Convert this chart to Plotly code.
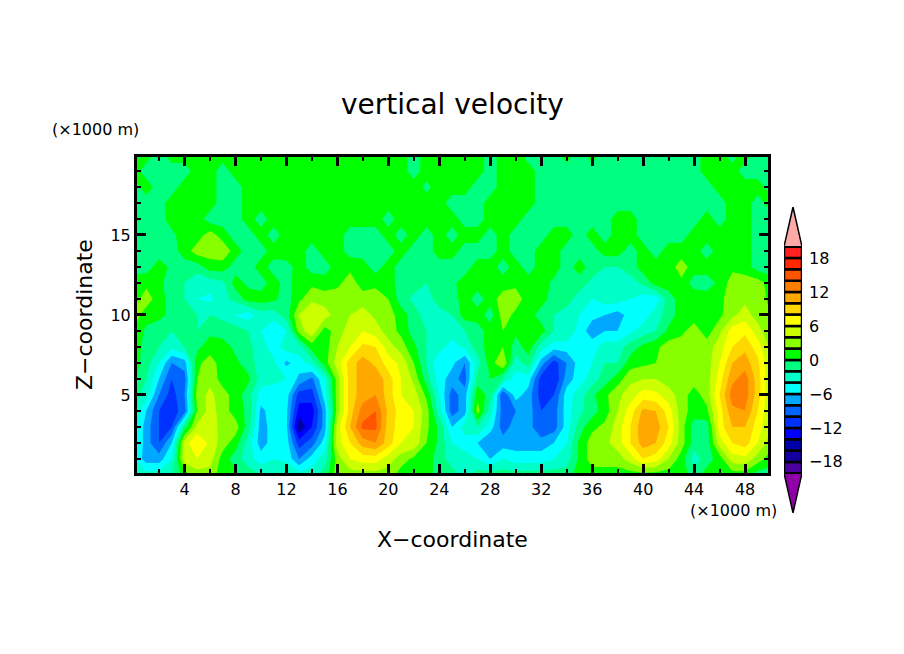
import plotly.graph_objects as go

x_km = list(range(0, 51))
z_km = list(range(0, 21))

w_z00 = [-3,-3,-3,-2,1,3,3,1,0.5,-1,-2,-2,-2,-3,-3,-1,3,3,3,3,3,1,1,1,-1,-1,-3,-1,-1,-1,-1,-1,-1,-1,-1,1,1,1,1,1,1,1,1,1,-1,1,1,1,1,-1,-1]
w_z01 = [-4,-7,-7,-4,5,6,5,1,-1,-3,-5,-4,-4.5,-8,-5,-3,3,6,7,7,5,3,1.5,1,-1,-3,-3,-4,-6,-4,-5,-5,-5,-4,-3,0.5,3,3,3,5,8,7,4,1,-3,-1,1,5,5.5,3,1]
w_z02 = [-3,-7,-10,-6,5,8,5.5,3,1,-3,-7,-5,-5,-11,-9,-5,5,8,11,12,9,6,5.5,2,-0.5,-4,-5,-6,-8,-7,-7,-7,-7,-6,-4,0.5,3,3.5,5,8,11,10,7,3,-1,-1,5,8,9,6,3]
w_z03 = [-3,-7,-10,-10,-1,4.5,5.5,3,3,-1,-7,-5,-5.5,-16,-12,-7,5,10,14.5,14.5,9,7,6,2.5,-0.5,-6,-3,-2,-5,-9,-7,-7,-10,-9,-5,-1,1.5,2.5,5,8,11.5,11,8,3,-1,-1,7,10,10,7,4]
w_z04 = [-2,-6,-10,-11,-9,2,5,3,1,-0.5,-6.5,-5,-5.5,-13,-13,-7,3,9,13,14,9.5,7,6,3,-3,-9,-7,3,-3,-9,-8,-7,-10,-9,-5,-2.5,-1,1,4,7,10.5,10,7,3,1,1.5,7,11.5,12,8,4]
w_z05 = [-1,-3,-8,-11,-8,3,4.5,3,1,-1,-5,-5,-5,-11,-11,-5,3,9,11,12,9,6,5,1.5,-4,-9,-7,1.5,-1,-10,-5,-7,-11,-10,-5,-3,-0.5,1.5,3.5,5,7,6.5,5,3,1,3,8,13,13,9,4]
w_z06 = [0.5,-2,-6,-10,-9,2,3.5,1,1,0.5,-3,-3.5,-4,-6.5,-8.5,-4,3,9,11,11.5,9,6,3.5,-1,-5,-7,-9,-1,0,-2,-5,-5,-11,-12,-7,-5,-3,-1,1,3.5,4,4,3,3,3,3,7,11.5,13,9,4]
w_z07 = [1,-1,-4,-8,-7,1.5,3,1,0.5,-1,-3,-3.5,-6.5,-5,-3,1,5,9,11,9.5,7,5.5,2,-2,-6,-5.5,-8,-3,1,4,-3,-1,-7,-11,-8,-5,-4,-2,-2,1,1.5,2,3,3,3,3,6,10,11,8.5,4]
w_z08 = [1.5,-1,-2,-3.5,-2,-0.5,1,1,-0.5,-1.5,-3,-5,-3,-3,1,1,4,6,8.5,8,5,3,0.5,-2,-3,-5,-3.5,-1,1,2,-1,1,-3,-5,-5,-4,-5,-3,-3,-1,0.5,1.5,3,3,3,3,5,8,9.5,7,3.5]
w_z09 = [2,-0.5,-1,-2,-1,-2,-0.5,-1,-1,-2,-4,-6,-4,3,5.5,1,3,5,6,5,3,1.5,-1,-2,-3,-3,-2,-1,1,2,0.5,1,1,-2,-2,-5,-7,-6,-6,-4.5,-3,-2,0.5,1.5,3,1,3.5,7,7.5,5,2]
w_z10 = [3,1,0.5,-0.5,-1.5,-2,-2,-2.5,-4,-5,-3,-3,-1,4,6,5,3,4,5,3.5,3,1,-1,-3,-3,-2,1,1,-1,3,1.5,1,-1,-2,-3,-4,-5.5,-6,-7,-5,-5,-3,-1,1,1,1,1.5,3.5,5,3,2]
w_z11 = [1,3,1,-1,-2,-4,-4.5,-2.5,-1.5,1,1,0.5,-1,1.5,3.5,3,3,3.5,3,3,2,-1,-2.5,-3,-1,-1,1,-1,1,3,3,1,1,-1,-1,-3,-4,-3,-3,-4,-5,-5,-1,1,1.5,1,1,4,3.5,3,1.5]
w_z12 = [1,1.5,0.5,-1,-2,-3.5,-3,-2.5,1,-0.5,-1,1,-1,1.5,1.5,1,1.5,3,1,1.5,1,-1,-1,-2,-1,-0.5,1,1,1,1,1.5,1,1,-0.5,-0.5,-1,-2.5,-3,-4,-3,-1.5,1,1,1.5,-1,-1,0.5,3,3,3,1]
w_z13 = [-1,-1,1,-0.5,-1,-1,1,1,-1,-1,1,-1,-1,1,-1,-1,1,1.5,1,-1,1,-1,-1,-2,-1,-1,-1,1,1,-1,1,-1,1,1,-1,1,-1,-2,-2,-1,1,1,1,3,1,1,1,1.5,1,-1,-1]
w_z14 = [-1,-1,-1,-1,1,3,3,3.5,1,-1,-1,1,1.5,1,-1,1,1,-1,-1,-1,-1,1,-1,-1,1,1,-1,-1,-1,1,-1,-1,1,1,-1,-1,-1,1,1,-1,1,-1,1,1,1,-1,1,1,1,-1,-1]
w_z15 = [-1,-1,-1,-0.5,1,1,3,1,-1,-1,1,-1,1,1,1,1,1,-1,-1,-1,1,-1,1,-1,1,-1,1,1,-1,1,-1,-1,-1,1,1,-1,1,-1,1,1,-1,-1,-1,-1,1,1,1,1,1,-1,-1]
w_z16 = [1,-1,-1,1,1,1,-1,-1,-1,1,-1,1,1,1,1,1,1,1,1,1,-1,1,1,1,1,1,-1,-1,1,1,1,-1,-1,-1,-1,-1,-1,-1,1,1,-1,-1,-1,-1,-1,1,-1,1,1,-1,-1]
w_z17 = [-1,-1,-1,1,1,1,1,-1,-1,1,1,1,1,1,1,1,1,1,1,1,1,1,1,1,1,-1,-1,-1,1,1,1,1,-1,-1,-1,-1,-1,-1,-1,-1,-1,-1,-1,-1,-1,-1,-1,1,1,-1,1]
w_z18 = [-1,1,-1,-1,1,1,1,-1,-1,1,1,1,1,1,1,1,1,1,1,1,1,1,1,-0.5,1,1,1,-1,-1,1,1,1,-1,-1,-1,-1,-1,-1,-1,-1,-1,-1,-1,-1,-1,-1,1,1,1,1,-1]
w_z19 = [1,-1,-1,-1,-1,1,1,-1,1,1,1,1,1,1,1,1,1,1,1,1,1,1,-1,1,1,1,1,1,-1,1,1,1,-1,-1,-1,-1,-1,-1,-1,-1,-1,-1,-1,-1,-1,1,1,1,-1,-1,-1]
w_z20 = [1,1,-1,1,1,1,1,1,1,1,1,1,1,1,1,1,1,1,1,1,1,1,-1,1,1,1,1,1,-1,1,1,-1,-1,-1,1,-1,1,-1,-1,-1,-1,-1,-1,-1,-1,1,1,-1,1,-1,-1]
w_rows = [w_z00,w_z01,w_z02,w_z03,w_z04,w_z05,w_z06,w_z07,w_z08,w_z09,w_z10,
          w_z11,w_z12,w_z13,w_z14,w_z15,w_z16,w_z17,w_z18,w_z19,w_z20]

band_edges = list(range(-20, 22, 2))
band_colors = ["#4B00A0","#1400A0","#0000A8","#0000FF","#0032FF","#0064FF","#00A8FF","#00FFFF","#00FFC8","#00FF80",
               "#00FF00","#88FF00","#CCFF00","#FFFF00","#FFD700","#FFA800","#FF7F00","#FF5500","#FF2800","#FF2020"]
under_color = "#9000A8"
over_color = "#FFA8A8"
cbar_ticks = [-18,-12,-6,0,6,12,18]
x_ticks = list(range(4, 52, 4))
z_ticks = [5, 10, 15]

# the page's body margin (8 px) offsets the figure, so the figure is 888x638
OFF = 8
W, H = 904 - 2 * OFF, 654 - 2 * OFF
FONT = "DejaVu Sans"

def px(p):
    return (p - OFF) / W

def py(p):
    return (H - (p - OFF)) / H

all_cols = [under_color] + band_colors + [over_color]
n = len(all_cols)
cscale = []
for i, c in enumerate(all_cols):
    cscale += [[i / n, c], [(i + 1) / n, c]]

fig = go.Figure()
fig.add_trace(go.Contour(
    x=x_km, y=z_km, z=w_rows, xaxis="x", yaxis="y",
    zmin=-22, zmax=22, autocontour=False,
    contours=dict(start=-20, end=20, size=2, coloring="fill", showlines=False),
    colorscale=cscale, line=dict(width=0, smoothing=0), showscale=False, hoverinfo="skip",
))

# colour key: boxes and end triangles on their own axes
fig.add_trace(go.Bar(
    x=[0.5] * len(band_colors), y=[2] * len(band_colors), base=band_edges[:-1], width=1,
    marker=dict(color=band_colors, line=dict(color="black", width=2.5)),
    xaxis="x2", yaxis="y2", showlegend=False, hoverinfo="skip",
))
fig.add_trace(go.Scatter(x=[0, 0.5, 1, 0], y=[20, 27, 20, 20], mode="lines", fill="toself",
                         fillcolor=over_color, line=dict(color="black", width=1.5),
                         xaxis="x2", yaxis="y2", showlegend=False, hoverinfo="skip"))
fig.add_trace(go.Scatter(x=[0, 0.5, 1, 0], y=[-20, -27, -20, -20], mode="lines", fill="toself",
                         fillcolor=under_color, line=dict(color="black", width=1.5),
                         xaxis="x2", yaxis="y2", showlegend=False, hoverinfo="skip"))

def ax_common():
    return dict(showgrid=False, zeroline=False, ticks="inside", ticklen=9, tickwidth=2.5, tickcolor="black",
                showline=True, linecolor="black", linewidth=3, mirror="allticks",
                tickfont=dict(family=FONT, size=16, color="black"))

def label(text, x, y, size, angle=0):
    return dict(text=text, x=px(x), y=py(y), xref="paper", yref="paper", showarrow=False,
                xanchor="center", yanchor="middle", textangle=angle,
                font=dict(size=size, family=FONT, color="black"))

fig.update_layout(
    width=W, height=H, margin=dict(l=0, r=0, t=0, b=0),
    paper_bgcolor="white", plot_bgcolor="white", showlegend=False,
    font=dict(family=FONT, color="black"),
    xaxis=dict(domain=[px(137), px(768)], range=[0.27, 49.8], tickvals=x_ticks,
               minor=dict(dtick=2, tick0=0, ticks="inside", ticklen=4, tickwidth=1.5, tickcolor="black"),
               **ax_common()),
    yaxis=dict(domain=[py(473), py(157)], range=[0.12, 19.87], tickvals=z_ticks,
               minor=dict(dtick=1, tick0=0, ticks="inside", ticklen=4, tickwidth=1.5, tickcolor="black"),
               **ax_common()),
    xaxis2=dict(domain=[px(784), px(802)], range=[0, 1], visible=False, anchor="y2"),
    yaxis2=dict(domain=[py(514), py(207)], range=[-27.2, 27], anchor="x2", side="right",
                tickvals=cbar_ticks, ticks="", showgrid=False, zeroline=False, showline=False,
                tickfont=dict(family=FONT, size=16, color="black"), ticklabelstandoff=6),
    annotations=[
        label("vertical velocity", 452, 104, 28),
        label("X\u2212coordinate", 452, 539, 22),
        label("Z\u2212coordinate", 84, 315, 22, -90),
        label("(\u00d71000 m)", 95, 129, 16),
        label("(\u00d71000 m)", 733, 511, 16),
    ],
)
fig.write_html("out.html")
